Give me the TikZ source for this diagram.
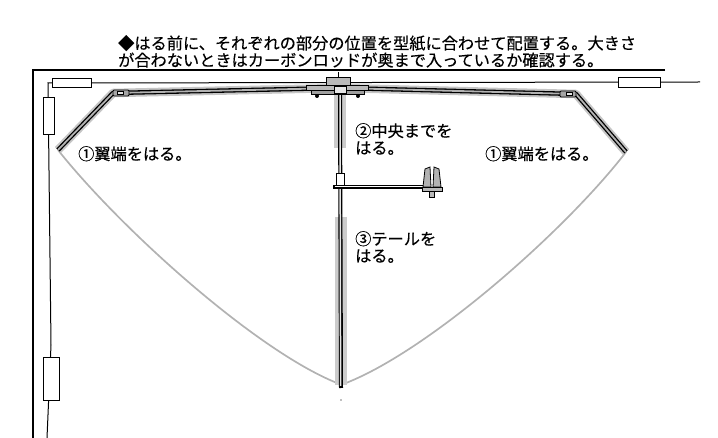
\documentclass[tikz,border=0pt]{standalone}
\usepackage{fontspec}
\setmainfont{Noto Sans CJK JP}[FakeBold=0.4]
\usetikzlibrary{positioning}

\begin{document}
\begin{tikzpicture}[x=1pt, y=-1pt,
  frame/.style={line width=2.4pt, black},
  cord/.style={line width=1pt, black},
  tagbox/.style={draw=black, line width=0.8pt, fill=white},
  tape/.style={line width=8.5pt, gray!45, line join=round},
  spar/.style={line width=4.4pt, black, line join=round},
  sparcore/.style={line width=1.8pt, gray!60, line join=round},
  sail/.style={line width=1.7pt, gray!60},
  part/.style={draw=black, line width=0.8pt, fill=gray!55},
  note/.style={font=\fontsize{16.2}{17}\selectfont, anchor=north west, align=left, inner sep=0pt}
]
\useasboundingbox (0,0) rectangle (718,438);

% key points of the frame
\coordinate (nose)  at (340,88);
\coordinate (lbend) at (113,93);
\coordinate (rbend) at (576,94);
\coordinate (ltip)  at (58,150);
\coordinate (rtip)  at (626,152);
\coordinate (tail)  at (341,388);

% heading
\node[note] (intro) at (118,35)
  {◆はる前に、それぞれの部分の位置を型紙に合わせて配置する。大きさ\\
   が合わないときはカーボンロッドが奥まで入っているか確認する。};

% board edge
\draw[frame] (665,70) -- (33,70) -- (33,438);

% line with tabs
\coordinate (cordR) at (700,82);
\coordinate (cordL) at (48,83);
\draw[cord] (cordR) -- (cordL) -- (51,345) -- (47,438);
\node[tagbox, minimum width=39pt, minimum height=9pt, inner sep=0pt] (tabL) at (72,83) {};
\node[tagbox, minimum width=42pt, minimum height=10pt, inner sep=0pt] (tabR) at (639,82) {};
\node[tagbox, minimum width=11pt, minimum height=37pt, inner sep=0pt] (tabT) at (48.5,116) {};
\node[tagbox, minimum width=16pt, minimum height=43pt, inner sep=0pt] (tabB) at (51,379) {};

% sail
\draw[sail] (ltip) .. controls (120,228) and (255,350) .. (337,383);
\draw[sail] (rtip) .. controls (566,230) and (430,350) .. (346,383);

% tape on the spine
\draw[line width=12pt, gray!40] (340,92) -- (340,148);
\draw[line width=12pt, gray!40] (341,217) -- (341,385);

% leading edges
\draw[tape] (ltip) -- (lbend) -- (nose) -- (rbend) -- (rtip);
\draw[spar] (ltip) -- (lbend) -- (nose) -- (rbend) -- (rtip);
\draw[sparcore] (ltip) -- (lbend) -- (nose) -- (rbend) -- (rtip);
\draw[part, fill=gray!70, rounded corners=1pt] (113,90) rectangle (129,96);
\draw[black, fill=gray!20, line width=0.5pt] (117,91.5) rectangle (123,94.5);
\draw[part, fill=gray!70, rounded corners=1pt] (560,91) rectangle (576,97);
\draw[black, fill=gray!20, line width=0.5pt] (566,92.5) rectangle (572,95.5);

% spine
\draw[line width=4pt, black] (340,92) -- (tail);
\draw[line width=1.5pt, gray!20] (340,94) -- (340.6,386);
\fill[gray] (tail) ++(0,12) circle (0.8pt);

% centre fitting
\draw[line width=0.8pt] (338,72) -- (338,77);
\draw[part] (326,77) rectangle (350,85);
\draw[part] (306,85) rectangle (368,90);
\draw[part, fill=gray!75] (311,90) rectangle (364,94);
\draw[black, fill=gray!20, line width=0.5pt] (334,86) rectangle (346,93);
\fill (317,96) circle (2pt) (358,96) circle (2pt);

% tail boom with fin
\draw[line width=3.2pt, black] (333,187) -- (428,187);
\draw[line width=1pt, white] (334.5,187) -- (426,187);
\draw[tagbox] (336,173) rectangle (344,185);
\draw[part] (422,187) rectangle (442,191);
\draw[part] (429.5,191) rectangle (434,197);
\draw[part, fill=gray!60] (423,187) -- (425,169) -- (430,167) -- (431,187) -- cycle;
\draw[part, fill=gray!60] (441,187) -- (439,169) -- (434,167) -- (433,187) -- cycle;

% steps
\node[note] (step1L) at (78,146) {①翼端をはる。};
\node[note] (step1R) at (485,146) {①翼端をはる。};
\node[note] (step2) at (355,123) {②中央までを\\はる。};
\node[note] (step3) at (355,231) {③テールを\\はる。};
\end{tikzpicture}
\end{document}
